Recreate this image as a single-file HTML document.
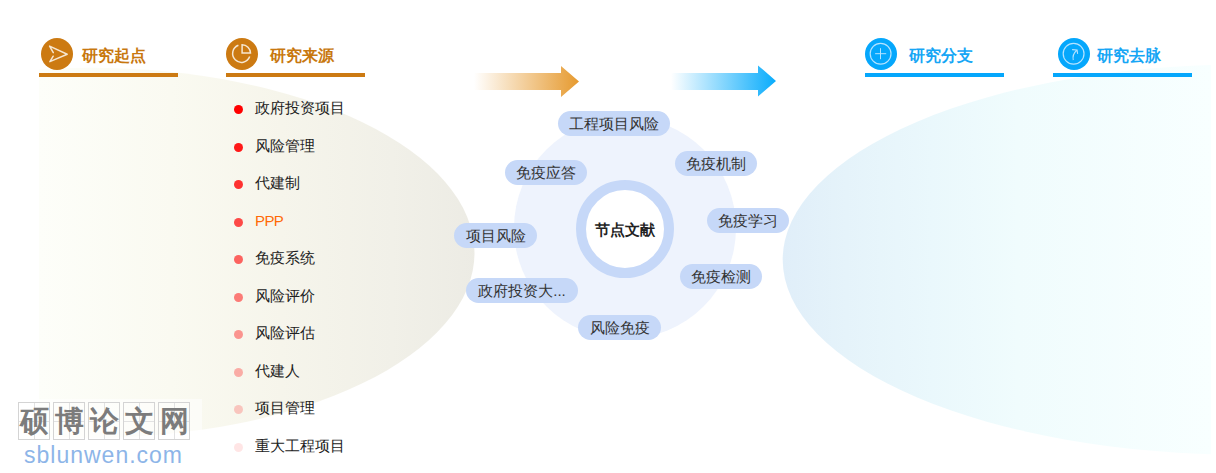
<!DOCTYPE html>
<html><head><meta charset="utf-8">
<style>
html,body{margin:0;padding:0;}
body{width:1216px;height:473px;position:relative;overflow:hidden;background:#fff;font-family:"Liberation Sans",sans-serif;}
.abs{position:absolute;}
.ic{position:absolute;width:32px;height:32px;border-radius:50%;top:38px;}
.ht{position:absolute;top:44px;font-size:16.2px;font-weight:bold;line-height:22px;white-space:nowrap;}
.ul{position:absolute;top:73px;height:4px;}
.or{background:#cc7a12;}
.bl{background:#05a7fc;}
.li{position:absolute;left:234px;font-size:15px;line-height:20px;color:#222;white-space:nowrap;}
.li i{position:absolute;left:0;top:7px;width:9px;height:9px;border-radius:50%;}
.li span{position:absolute;left:21px;top:0;}
.pill{position:absolute;height:25px;border-radius:13px;background:#c6d8f8;color:#333;font-size:15px;line-height:26px;text-align:center;white-space:nowrap;}
.wb{position:absolute;top:0;width:30px;height:36px;border:1px solid #d4d4d4;
 background:linear-gradient(#e2e2e2,#e2e2e2) 50% 0/1px 100% no-repeat,linear-gradient(#e2e2e2,#e2e2e2) 0 50%/100% 1px no-repeat;}
.wb b{position:absolute;left:0;top:1px;width:30px;text-align:center;font-family:"Liberation Serif",serif;font-size:29px;line-height:34px;color:#7c7c7c;font-weight:bold;}
</style></head><body>
<svg class="abs" style="left:0;top:0" width="1216" height="473" viewBox="0 0 1216 473">
 <defs>
  <clipPath id="cl"><rect x="39" y="0" width="500" height="473"/></clipPath>
  <clipPath id="cr"><rect x="700" y="0" width="511" height="473"/></clipPath>
  <linearGradient id="gl" x1="39" y1="0" x2="480" y2="0" gradientUnits="userSpaceOnUse">
   <stop offset="0" stop-color="#fdfef9"/><stop offset="0.3" stop-color="#fafaf1"/><stop offset="0.55" stop-color="#f6f5eb"/><stop offset="0.8" stop-color="#f1f0e8"/><stop offset="1" stop-color="#ecebe4"/>
  </linearGradient>
  <linearGradient id="gr" x1="782" y1="0" x2="1211" y2="0" gradientUnits="userSpaceOnUse">
   <stop offset="0" stop-color="#e0eef9"/><stop offset="0.15" stop-color="#e5f3fa"/><stop offset="0.35" stop-color="#eaf8fc"/><stop offset="0.55" stop-color="#f0fcfd"/><stop offset="1" stop-color="#f8ffff"/>
  </linearGradient>
 </defs>
 <ellipse cx="90" cy="252.8" rx="384.5" ry="185" fill="url(#gl)" clip-path="url(#cl)"/>
 <ellipse cx="1242" cy="259.6" rx="459.3" ry="195" fill="url(#gr)" clip-path="url(#cr)"/>
</svg>

<!-- headers -->
<div class="ic or" style="left:41px;"></div>
<svg class="abs" style="left:41px;top:38px" width="32" height="32" viewBox="0 0 32 32">
 <path d="M12.3 14.6 L8.6 8.1 L26.2 16.3 L8.9 23.6 L12.2 18.2" fill="none" stroke="#f6e6d0" stroke-width="1.5" stroke-linejoin="round" stroke-linecap="round"/>
</svg>
<div class="ht" style="left:82px;color:#c8780f;">研究起点</div>
<div class="ul or" style="left:39px;width:139px;"></div>

<div class="ic or" style="left:226px;"></div>
<svg class="abs" style="left:226px;top:38px" width="32" height="32" viewBox="0 0 32 32">
 <path d="M12.4 7.3 A8.8 8.8 0 1 0 23.7 18.6" fill="none" stroke="#f6e6d0" stroke-width="1.5"/>
 <path d="M16.1 6.8 L16.1 15.1 L24.5 15.1 A8.4 8.4 0 0 0 16.1 6.8 Z" fill="none" stroke="#f6e6d0" stroke-width="1.5"/>
</svg>
<div class="ht" style="left:270px;color:#c8780f;">研究来源</div>
<div class="ul or" style="left:226px;width:139px;"></div>

<div class="ic bl" style="left:865px;"></div>
<svg class="abs" style="left:865px;top:38px" width="32" height="32" viewBox="0 0 32 32">
 <circle cx="15.6" cy="15.7" r="10.4" fill="none" stroke="#b5e3ff" stroke-width="1.2"/>
 <path d="M10.1 15.7 H21.2 M15.5 10.2 V21.2" stroke="#b5e3ff" stroke-width="1"/>
</svg>
<div class="ht" style="left:909px;color:#16a6f5;">研究分支</div>
<div class="ul bl" style="left:865px;width:139px;"></div>

<div class="ic bl" style="left:1058px;"></div>
<svg class="abs" style="left:1058px;top:38px" width="32" height="32" viewBox="0 0 32 32">
 <circle cx="15.6" cy="15.7" r="10.4" fill="none" stroke="#b5e3ff" stroke-width="1.2"/>
 <path d="M15.3 22 C14.5 18.6 15.3 15.5 18.5 12.5 M14.1 11.6 L19.1 11.9 L19.6 15.9" fill="none" stroke="#b5e3ff" stroke-width="1.1"/>
</svg>
<div class="ht" style="left:1097px;color:#16a6f5;">研究去脉</div>
<div class="ul bl" style="left:1053px;width:139px;"></div>

<!-- arrows -->
<svg class="abs" style="left:460px;top:60px" width="340" height="45" viewBox="460 60 340 45">
 <defs>
  <linearGradient id="go" x1="474" y1="0" x2="579" y2="0" gradientUnits="userSpaceOnUse">
   <stop offset="0" stop-color="#e69a2f" stop-opacity="0"/><stop offset="1" stop-color="#e69a2f"/>
  </linearGradient>
  <linearGradient id="gb" x1="671" y1="0" x2="776" y2="0" gradientUnits="userSpaceOnUse">
   <stop offset="0" stop-color="#09acfc" stop-opacity="0"/><stop offset="1" stop-color="#09acfc"/>
  </linearGradient>
 </defs>
 <path d="M474 73 H561 V66 L579 81.5 L561 97 V90 H474 Z" fill="url(#go)"/>
 <path d="M671 73 H758 V65.4 L776 81 L758 96.4 V90 H671 Z" fill="url(#gb)"/>
</svg>

<!-- list -->
<div class="li" style="top:98px;"><i style="background:rgba(255,0,0,1.00)"></i><span>政府投资项目</span></div>
<div class="li" style="top:136px;"><i style="background:rgba(255,0,0,0.90)"></i><span>风险管理</span></div>
<div class="li" style="top:173px;"><i style="background:rgba(255,0,0,0.80)"></i><span>代建制</span></div>
<div class="li" style="top:211px;"><i style="background:rgba(255,0,0,0.70)"></i><span style="color:#ff6a05;letter-spacing:-0.6px">PPP</span></div>
<div class="li" style="top:248px;"><i style="background:rgba(255,0,0,0.60)"></i><span>免疫系统</span></div>
<div class="li" style="top:286px;"><i style="background:rgba(255,0,0,0.50)"></i><span>风险评价</span></div>
<div class="li" style="top:323px;"><i style="background:rgba(255,0,0,0.40)"></i><span>风险评估</span></div>
<div class="li" style="top:361px;"><i style="background:rgba(255,0,0,0.30)"></i><span>代建人</span></div>
<div class="li" style="top:398px;"><i style="background:rgba(255,0,0,0.20)"></i><span>项目管理</span></div>
<div class="li" style="top:436px;"><i style="background:rgba(255,0,0,0.10)"></i><span>重大工程项目</span></div>

<!-- center -->
<div class="abs" style="left:514px;top:117px;width:222px;height:222px;border-radius:50%;background:#eef3fd;"></div>
<div class="abs" style="left:576.2px;top:179.8px;width:78px;height:78px;border-radius:50%;background:#fff;border:10px solid #c6d8f8;"></div>
<div class="abs" style="left:575px;top:220px;width:100px;text-align:center;font-size:14.6px;font-weight:bold;line-height:20px;color:#222;">节点文献</div>

<div class="pill" style="left:558px;top:111px;width:112px;">工程项目风险</div>
<div class="pill" style="left:505px;top:160px;width:82px;">免疫应答</div>
<div class="pill" style="left:675px;top:151px;width:82px;">免疫机制</div>
<div class="pill" style="left:454px;top:223px;width:83px;">项目风险</div>
<div class="pill" style="left:707px;top:208px;width:82px;">免疫学习</div>
<div class="pill" style="left:466px;top:278px;width:112px;">政府投资大...</div>
<div class="pill" style="left:680px;top:264px;width:82px;">免疫检测</div>
<div class="pill" style="left:578px;top:315px;width:83px;">风险免疫</div>

<!-- watermark -->
<div class="abs" style="left:0;top:399px;width:202px;height:74px;background:rgba(255,255,255,0.55);"></div>
<div class="abs" style="left:18px;top:402px;">
 <div class="wb" style="left:0"><b>硕</b></div><div class="wb" style="left:35px"><b>博</b></div><div class="wb" style="left:70px"><b>论</b></div><div class="wb" style="left:105px"><b>文</b></div><div class="wb" style="left:140px"><b>网</b></div>
</div>
<div class="abs" style="left:24px;top:440px;font-size:23px;line-height:30px;color:#8db5e8;letter-spacing:1px;white-space:nowrap;">sblunwen.com</div>
</body></html>
